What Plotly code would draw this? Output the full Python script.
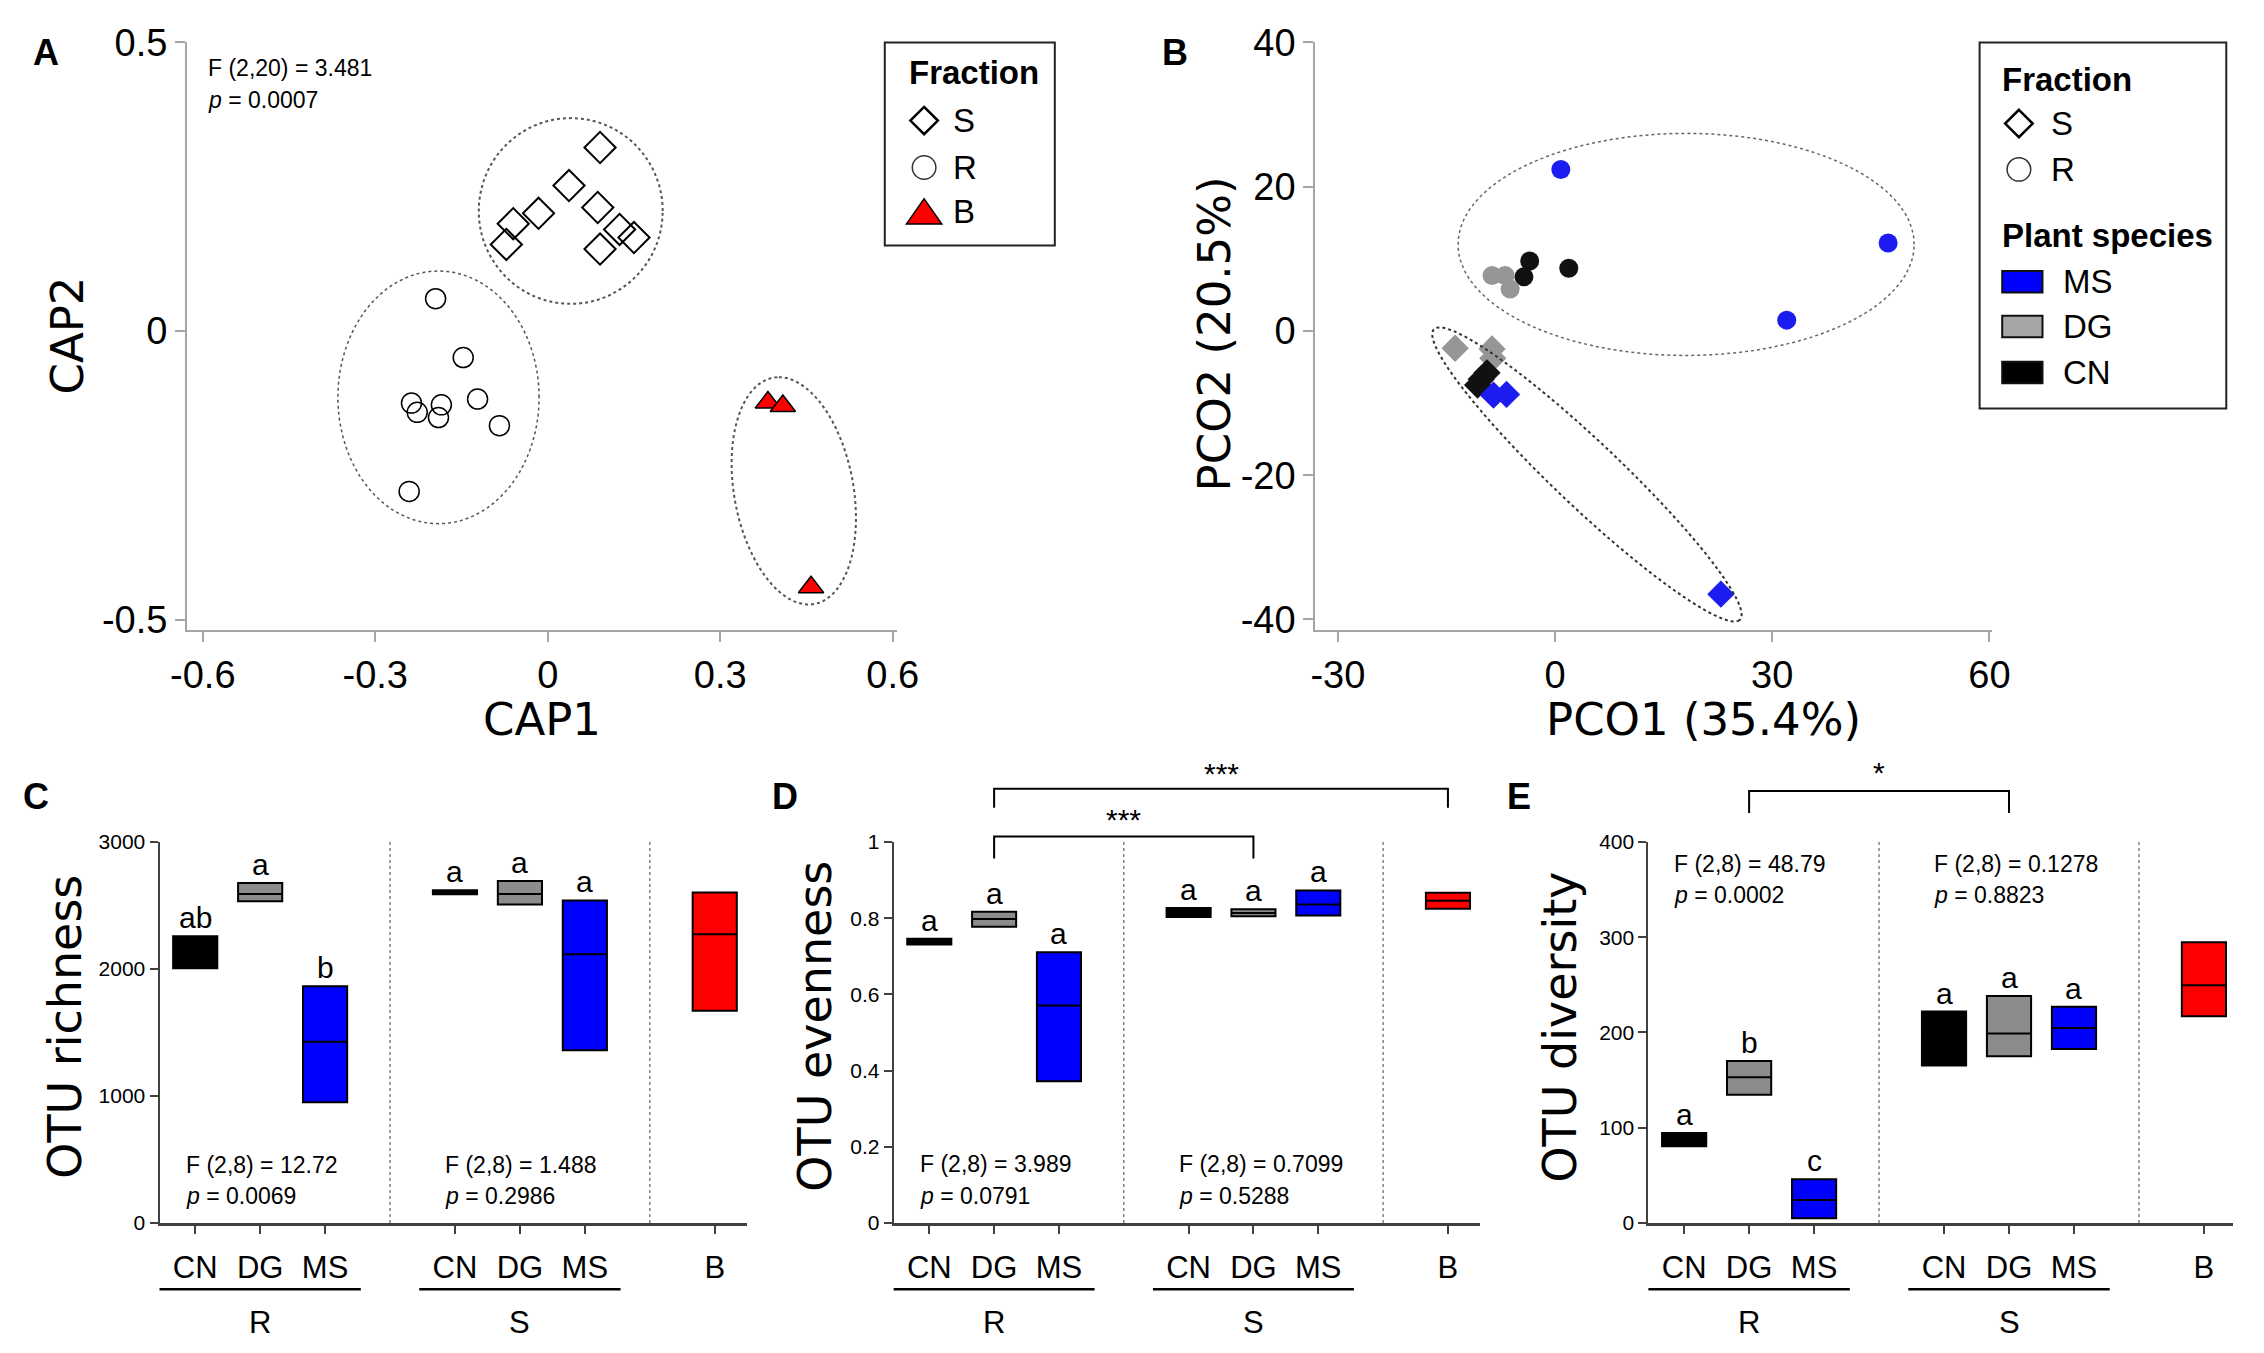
import numpy as np
import plotly.graph_objects as go

W, H = 2264, 1353

# ---------------- data ----------------
# Panel A: CAP ordination
capS_x = [0.091, 0.037, -0.016, -0.060, -0.072, 0.087, 0.125, 0.150, 0.091]
capS_y = [0.318, 0.252, 0.204, 0.186, 0.150, 0.214, 0.176, 0.162, 0.142]
capR_x = [-0.195, -0.147, -0.237, -0.227, -0.185, -0.190, -0.122, -0.084, -0.241]
capR_y = [0.056, -0.046, -0.125, -0.141, -0.128, -0.150, -0.118, -0.164, -0.278]
capB_x = [0.383, 0.409, 0.458]
capB_y = [-0.124, -0.130, -0.444]

# Panel B: PCO ordination (species x fraction)
pco_MS_R_x = [0.8, 46.0, 32.0]
pco_MS_R_y = [22.4, 12.2, 1.5]
pco_CN_R_x = [-3.5, -4.3, 1.9]
pco_CN_R_y = [9.7, 7.5, 8.7]
pco_DG_R_x = [-8.7, -6.9, -6.2]
pco_DG_R_y = [7.7, 7.7, 5.8]
pco_DG_S_x = [-13.8, -8.7, -8.6]
pco_DG_S_y = [-2.4, -2.5, -3.8]
pco_CN_S_x = [-10.2, -9.4, -10.7]
pco_CN_S_y = [-6.7, -5.8, -7.5]
pco_MS_S_x = [-8.5, -6.7, 22.9]
pco_MS_S_y = [-8.9, -8.8, -36.5]

# Panels C-E: min / median / max per group
group_names = ["R", "S", ""]
group_species = [["CN", "DG", "MS"], ["CN", "DG", "MS"], ["B"]]

richness_low = [2006, 2534, 950, 2589, 2508, 1361, 1671]
richness_med = [2130, 2592, 1427, 2605, 2592, 2117, 2275]
richness_high = [2258, 2678, 1865, 2620, 2693, 2540, 2603]
richness_letters = ["ab", "a", "b", "a", "a", "a", ""]
richness_stats = [("F (2,8) = 12.72", "0.0069"), ("F (2,8) = 1.488", "0.2986")]

evenness_low = [0.731, 0.778, 0.372, 0.803, 0.805, 0.807, 0.825]
evenness_med = [0.738, 0.798, 0.571, 0.815, 0.814, 0.836, 0.846]
evenness_high = [0.746, 0.817, 0.711, 0.827, 0.824, 0.873, 0.867]
evenness_letters = ["a", "a", "a", "a", "a", "a", ""]
evenness_stats = [("F (2,8) = 3.989", "0.0791"), ("F (2,8) = 0.7099", "0.5288")]

diversity_low = [80.4, 134.7, 5.0, 165.4, 175.0, 182.6, 217.0]
diversity_med = [87, 153, 24.1, 195, 199, 204.8, 249.6]
diversity_high = [94.5, 170, 45.9, 222, 238.4, 227, 294.7]
diversity_letters = ["a", "b", "c", "a", "a", "a", ""]
diversity_stats = [("F (2,8) = 48.79", "0.0002"), ("F (2,8) = 0.1278", "0.8823")]

# ---------------- styling ----------------
COL = {"CN": "#000000", "DG": "#8c8c8c", "MS": "#0000ff", "B": "#ff0000"}
PCO_COL = {"CN": "#111111", "DG": "#969696", "MS": "#1c1cf0"}
TICKFONT = "Liberation Sans"
TITLEFONT = "DejaVu Sans"


def fx(px):
    return px / W


def fy(py):
    return 1 - py / H


panels = {
    "A": dict(ax="", xd=(173, 895), yd=(22, 624), xr=(-0.6274, 0.6068), yr=(-0.5186, 0.5)),
    "B": dict(ax="2", xd=(1321, 2010), yd=(22, 624), xr=(-33.12, 60.4), yr=(-41.5, 40)),
    "C": dict(ax="3", xd=(145, 743), yd=(841, 1231), xr=(0.45, 9.5), yr=(0, 3000)),
    "D": dict(ax="4", xd=(892, 1489), yd=(841, 1231), xr=(0.45, 9.5), yr=(0, 1)),
    "E": dict(ax="5", xd=(1660, 2255), yd=(841, 1231), xr=(0.45, 9.45), yr=(0, 400)),
}


def px_of(p, x):
    P = panels[p]
    f = (x - P["xr"][0]) / (P["xr"][1] - P["xr"][0])
    return fx(P["xd"][0] + f * (P["xd"][1] - P["xd"][0]))


def py_of(p, y):
    P = panels[p]
    f = (y - P["yr"][0]) / (P["yr"][1] - P["yr"][0])
    return fy(P["yd"][1] - f * (P["yd"][1] - P["yd"][0]))


def ellipse_path(c, u, v, n=90):
    t = np.linspace(0, 2 * np.pi, n)
    xs = c[0] + u[0] * np.cos(t) + v[0] * np.sin(t)
    ys = c[1] + u[1] * np.cos(t) + v[1] * np.sin(t)
    return "M " + " L ".join(f"{a:.5f},{b:.5f}" for a, b in zip(xs, ys)) + " Z"


def ptext(txt, x, y, size, xanchor="center", family=TICKFONT, angle=0):
    return dict(x=fx(x), y=fy(y), xref="paper", yref="paper", text=txt, textangle=angle,
                xanchor=xanchor, yanchor="middle", showarrow=False,
                font=dict(family=family, size=size, color="black"))


fig = go.Figure()
shapes = []
annotations = []

# ---------------- Panel A ----------------
fig.add_trace(go.Scatter(
    x=capS_x, y=capS_y, mode="markers", name="S", xaxis="x", yaxis="y", showlegend=False,
    marker=dict(symbol="diamond-open", size=24, color="black", line=dict(width=2))))
fig.add_trace(go.Scatter(
    x=capR_x, y=capR_y, mode="markers", name="R", xaxis="x", yaxis="y", showlegend=False,
    marker=dict(symbol="circle-open", size=20, color="black", line=dict(width=1.5))))
fig.add_trace(go.Scatter(
    x=capB_x, y=capB_y, mode="markers", name="B", xaxis="x", yaxis="y", showlegend=False,
    marker=dict(symbol="triangle-up", size=22, color="#ff0000", line=dict(width=1.5, color="black"))))

for c, u, v, w in [((0.040, 0.208), (0.160, 0), (0, 0.161), 2),
                   ((-0.19, -0.115), (0.175, 0), (0, 0.219), 1.5),
                   ((0.428, -0.277), (-0.026, 0.197), (0.105, 0), 2)]:
    shapes.append(dict(type="path", xref="x", yref="y", path=ellipse_path(c, u, v),
                       line=dict(color="#555555", width=w, dash="dot")))

# ---------------- Panel B ----------------
for xs, ys, sp, sym in [(pco_MS_R_x, pco_MS_R_y, "MS", "circle"), (pco_CN_R_x, pco_CN_R_y, "CN", "circle"),
                        (pco_DG_R_x, pco_DG_R_y, "DG", "circle"), (pco_DG_S_x, pco_DG_S_y, "DG", "diamond"),
                        (pco_CN_S_x, pco_CN_S_y, "CN", "diamond"), (pco_MS_S_x, pco_MS_S_y, "MS", "diamond")]:
    fig.add_trace(go.Scatter(x=xs, y=ys, mode="markers", xaxis="x2", yaxis="y2", showlegend=False,
                             name=sp, marker=dict(symbol=sym, size=19 if sym == "circle" else 21,
                                                  color=PCO_COL[sp], line=dict(width=0))))

shapes.append(dict(type="path", xref="x2", yref="y2",
                   path=ellipse_path((18.1, 12.0), (31.5, 0), (0, 15.4)),
                   line=dict(color="#666666", width=1.5, dash="dot")))
shapes.append(dict(type="path", xref="x2", yref="y2",
                   path=ellipse_path((4.4, -19.9), (20.9, -20.3), (4.46, 1.97)),
                   line=dict(color="#333333", width=2, dash="dot")))


# ---------------- legends (box, glyphs and text) ----------------
def diamond(cx, cy, r):
    return (f"M {fx(cx)},{fy(cy - r)} L {fx(cx + r)},{fy(cy)} L {fx(cx)},{fy(cy + r)} "
            f"L {fx(cx - r)},{fy(cy)} Z")


def triangle(cx, cy, hw, hh):
    return f"M {fx(cx - hw)},{fy(cy + hh)} L {fx(cx + hw)},{fy(cy + hh)} L {fx(cx)},{fy(cy - hh)} Z"


LEG = 33
shapes.append(dict(type="rect", xref="paper", yref="paper", x0=fx(883), x1=fx(1056), y0=fy(230), y1=fy(22),
                   line=dict(color="#222222", width=2), fillcolor="white", layer="above"))
annotations.append(ptext("<b>Fraction</b>", 906, 53, LEG, "left"))
shapes.append(dict(type="path", xref="paper", yref="paper", path=diamond(923, 102, 14),
                   line=dict(color="black", width=2.5), layer="above"))
shapes.append(dict(type="circle", xref="paper", yref="paper", x0=fx(911), x1=fx(935), y0=fy(162), y1=fy(138),
                   line=dict(color="#333333", width=1.5), layer="above"))
shapes.append(dict(type="path", xref="paper", yref="paper", path=triangle(923, 195, 18, 13),
                   line=dict(color="black", width=1.5), fillcolor="#ff0000", layer="above"))
for t, y in [("S", 102), ("R", 150), ("B", 195)]:
    annotations.append(ptext(t, 950, y, LEG, "left"))

shapes.append(dict(type="rect", xref="paper", yref="paper", x0=fx(1997), x1=fx(2248), y0=fy(397), y1=fy(22),
                   line=dict(color="#222222", width=2), fillcolor="white", layer="above"))
annotations.append(ptext("<b>Fraction</b>", 2018, 60, LEG, "left"))
annotations.append(ptext("<b>Plant species</b>", 2018, 220, LEG, "left"))
shapes.append(dict(type="path", xref="paper", yref="paper", path=diamond(2037, 105, 14),
                   line=dict(color="black", width=2.5), layer="above"))
shapes.append(dict(type="circle", xref="paper", yref="paper", x0=fx(2025), x1=fx(2049), y0=fy(164), y1=fy(140),
                   line=dict(color="#333333", width=1.5), layer="above"))
annotations.append(ptext("S", 2068, 105, LEG, "left"))
annotations.append(ptext("R", 2068, 152, LEG, "left"))
for sp, y in [("MS", 267), ("DG", 313), ("CN", 360)]:
    shapes.append(dict(type="rect", xref="paper", yref="paper", x0=fx(2020), x1=fx(2061),
                       y0=fy(y + 11), y1=fy(y - 11), fillcolor=COL[sp] if sp != "DG" else "#a6a6a6",
                       line=dict(color="#111111", width=2), layer="above"))
    annotations.append(ptext(sp, 2080, y, LEG, "left"))

# ---------------- Panels C-E ----------------
positions, labels, species_flat = [], [], []
dividers, group_spans = [], []
p = 1
for g, sps in zip(group_names, group_species):
    start = p
    for s in sps:
        positions.append(p)
        labels.append(s)
        species_flat.append(s)
        p += 1
    group_spans.append((g, start, p - 1))
    dividers.append(p)
    p += 1
dividers = dividers[:-1]

bottom = [
    ("C", richness_low, richness_med, richness_high, richness_letters, richness_stats, "OTU richness",
     [0, 1000, 2000, 3000], (454, 210), 48),
    ("D", evenness_low, evenness_med, evenness_high, evenness_letters, evenness_stats, "OTU evenness",
     [0, 0.2, 0.4, 0.6, 0.8, 1], (0.154, 0.070), 812),
    ("E", diversity_low, diversity_med, diversity_high, diversity_letters, diversity_stats, "OTU diversity",
     [0, 100, 200, 300, 400], (377, 344), 1570),
]

for key, lo, me, hi, lets, stats, ytitle, yt, stat_y, title_x in bottom:
    ax = panels[key]["ax"]
    for sp in ["CN", "DG", "MS", "B"]:
        idx = [i for i, s in enumerate(species_flat) if s == sp]
        fig.add_trace(go.Box(
            x=[positions[i] for i in idx],
            q1=[lo[i] for i in idx], median=[me[i] for i in idx], q3=[hi[i] for i in idx],
            lowerfence=[lo[i] for i in idx], upperfence=[hi[i] for i in idx],
            fillcolor=COL[sp], line=dict(color="black", width=2), width=0.68, whiskerwidth=0,
            boxpoints=False, showlegend=False, xaxis="x" + ax, yaxis="y" + ax, hoverinfo="skip"))
    for i, l in enumerate(lets):
        if l:
            annotations.append(dict(x=positions[i], y=hi[i], xref="x" + ax, yref="y" + ax, text=l,
                                    showarrow=False, xanchor="center", yanchor="bottom", yshift=0,
                                    font=dict(family=TICKFONT, size=30, color="black")))
    for d in dividers:
        shapes.append(dict(type="line", xref="x" + ax, yref="y" + ax, x0=d, x1=d,
                           y0=panels[key]["yr"][0], y1=panels[key]["yr"][1],
                           line=dict(color="#808080", width=1.5, dash="dot")))
    for g, a, b in group_spans:
        if not g:
            continue
        shapes.append(dict(type="line", xref="paper", yref="paper",
                           x0=px_of(key, a - 0.55), x1=px_of(key, b + 0.55), y0=fy(1299), y1=fy(1299),
                           line=dict(color="black", width=2.5)))
        annotations.append(dict(x=(a + b) / 2, y=fy(1333), xref="x" + ax, yref="paper", text=g,
                                xanchor="center", yanchor="middle", showarrow=False,
                                font=dict(family=TICKFONT, size=31, color="black")))
    for gi, (ftxt, pv) in enumerate(stats):
        gx = group_spans[gi][1] - 0.18
        annotations.append(dict(x=gx, y=stat_y[0], xref="x" + ax, yref="y" + ax, text=ftxt,
                                xanchor="left", yanchor="middle",
                                showarrow=False, font=dict(family=TICKFONT, size=23, color="black")))
        annotations.append(dict(x=gx, y=stat_y[1], xref="x" + ax, yref="y" + ax, text="<i>p</i> = " + pv,
                                xanchor="left", yanchor="middle", showarrow=False,
                                font=dict(family=TICKFONT, size=23, color="black")))
    annotations.append(ptext(ytitle, title_x, 1030, 46, family=TITLEFONT, angle=-90))

brackets = [("D", 2, 6, 0.957, 1.015, 1.06, "***"),
            ("D", 2, 9, 1.09, 1.14, 1.18, "***"),
            ("E", 2, 6, 430.6, 453.6, 473, "*")]
for key, xa, xb, ylo, yhi, ys, txt in brackets:
    x0, x1 = px_of(key, xa), px_of(key, xb)
    y0, y1 = py_of(key, ylo), py_of(key, yhi)
    shapes.append(dict(type="path", xref="paper", yref="paper",
                       path=f"M {x0},{y0} L {x0},{y1} L {x1},{y1} L {x1},{y0}",
                       line=dict(color="black", width=2)))
    annotations.append(dict(x=(x0 + x1) / 2, y=py_of(key, ys), xref="paper", yref="paper", text=txt,
                            xanchor="center", yanchor="middle",
                            showarrow=False, font=dict(family=TICKFONT, size=30, color="black")))

annotations.append(ptext("F (2,20) = 3.481", 192, 48, 23, "left"))
annotations.append(ptext("<i>p</i> = 0.0007", 192, 81, 23, "left"))
for txt, x, y, ang in [("CAP2", 51, 322, -90), ("CAP1", 534, 715, 0),
                       ("PCO2 (20.5%)", 1218, 321, -90), ("PCO1 (35.4%)", 1716, 715, 0)]:
    annotations.append(ptext(txt, x, y, 45, family=TITLEFONT, angle=ang))
for txt, x, y in [("A", 30, 32), ("B", 1178, 32), ("C", 19, 794), ("D", 781, 794), ("E", 1528, 794)]:
    annotations.append(ptext(f"<b>{txt}</b>", x, y, 36))

# ---------------- axes ----------------
layout_axes = {}
for key, P in panels.items():
    ax = P["ax"]
    xname, yname = "xaxis" + ax, "yaxis" + ax
    xdom = [fx(P["xd"][0]), fx(P["xd"][1])]
    ydom = [fy(P["yd"][1]), fy(P["yd"][0])]
    if key in ("A", "B"):
        if key == "A":
            xt = [-0.6, -0.3, 0, 0.3, 0.6]; xtt = ["-0.6", "-0.3", "0", "0.3", "0.6"]
            yt = [-0.5, 0, 0.5]; ytt = ["-0.5", "0", "0.5"]
        else:
            xt = [-30, 0, 30, 60]; xtt = ["-30", "0", "30", "60"]
            yt = [-40, -20, 0, 20, 40]; ytt = ["-40", "-20", "0", "20", "40"]
        common = dict(showline=True, linecolor="#a6a6a6", linewidth=2, ticks="outside", ticklen=10,
                      tickwidth=2, tickcolor="#a6a6a6", showgrid=False, zeroline=False,
                      tickfont=dict(family=TICKFONT, size=38, color="black"), fixedrange=True)
        layout_axes[xname] = dict(domain=xdom, range=list(P["xr"]), anchor="y" + ax,
                                  tickvals=xt, ticktext=xtt, **common)
        layout_axes[yname] = dict(domain=ydom, range=list(P["yr"]), anchor="x" + ax,
                                  tickvals=yt, ticktext=ytt, **common)
    else:
        yt = [b[7] for b in bottom if b[0] == key][0]
        layout_axes[xname] = dict(domain=xdom, range=list(P["xr"]), anchor="y" + ax,
                                  tickvals=positions, ticktext=labels, showline=True, linecolor="#404040",
                                  linewidth=3, ticks="outside", ticklen=8, tickwidth=2, tickcolor="#404040",
                                  showgrid=False, zeroline=False, ticklabelstandoff=7,
                                  tickfont=dict(family=TICKFONT, size=31, color="black"), fixedrange=True)
        layout_axes[yname] = dict(domain=ydom, range=list(P["yr"]), anchor="x" + ax,
                                  tickvals=yt, showline=True, linecolor="#404040", linewidth=2,
                                  ticks="outside", ticklen=8, tickwidth=2, tickcolor="#404040",
                                  showgrid=False, zeroline=False,
                                  tickfont=dict(family=TICKFONT, size=21, color="black"), fixedrange=True)

fig.update_layout(
    width=W, height=H, margin=dict(l=0, r=0, t=0, b=0),
    paper_bgcolor="white", plot_bgcolor="white", boxmode="overlay", showlegend=False,
    shapes=shapes, annotations=annotations,
    **layout_axes,
)

fig.write_html("out.html", config={"displayModeBar": False},
               post_script="document.body.style.margin='0';document.body.style.overflow='hidden';")
